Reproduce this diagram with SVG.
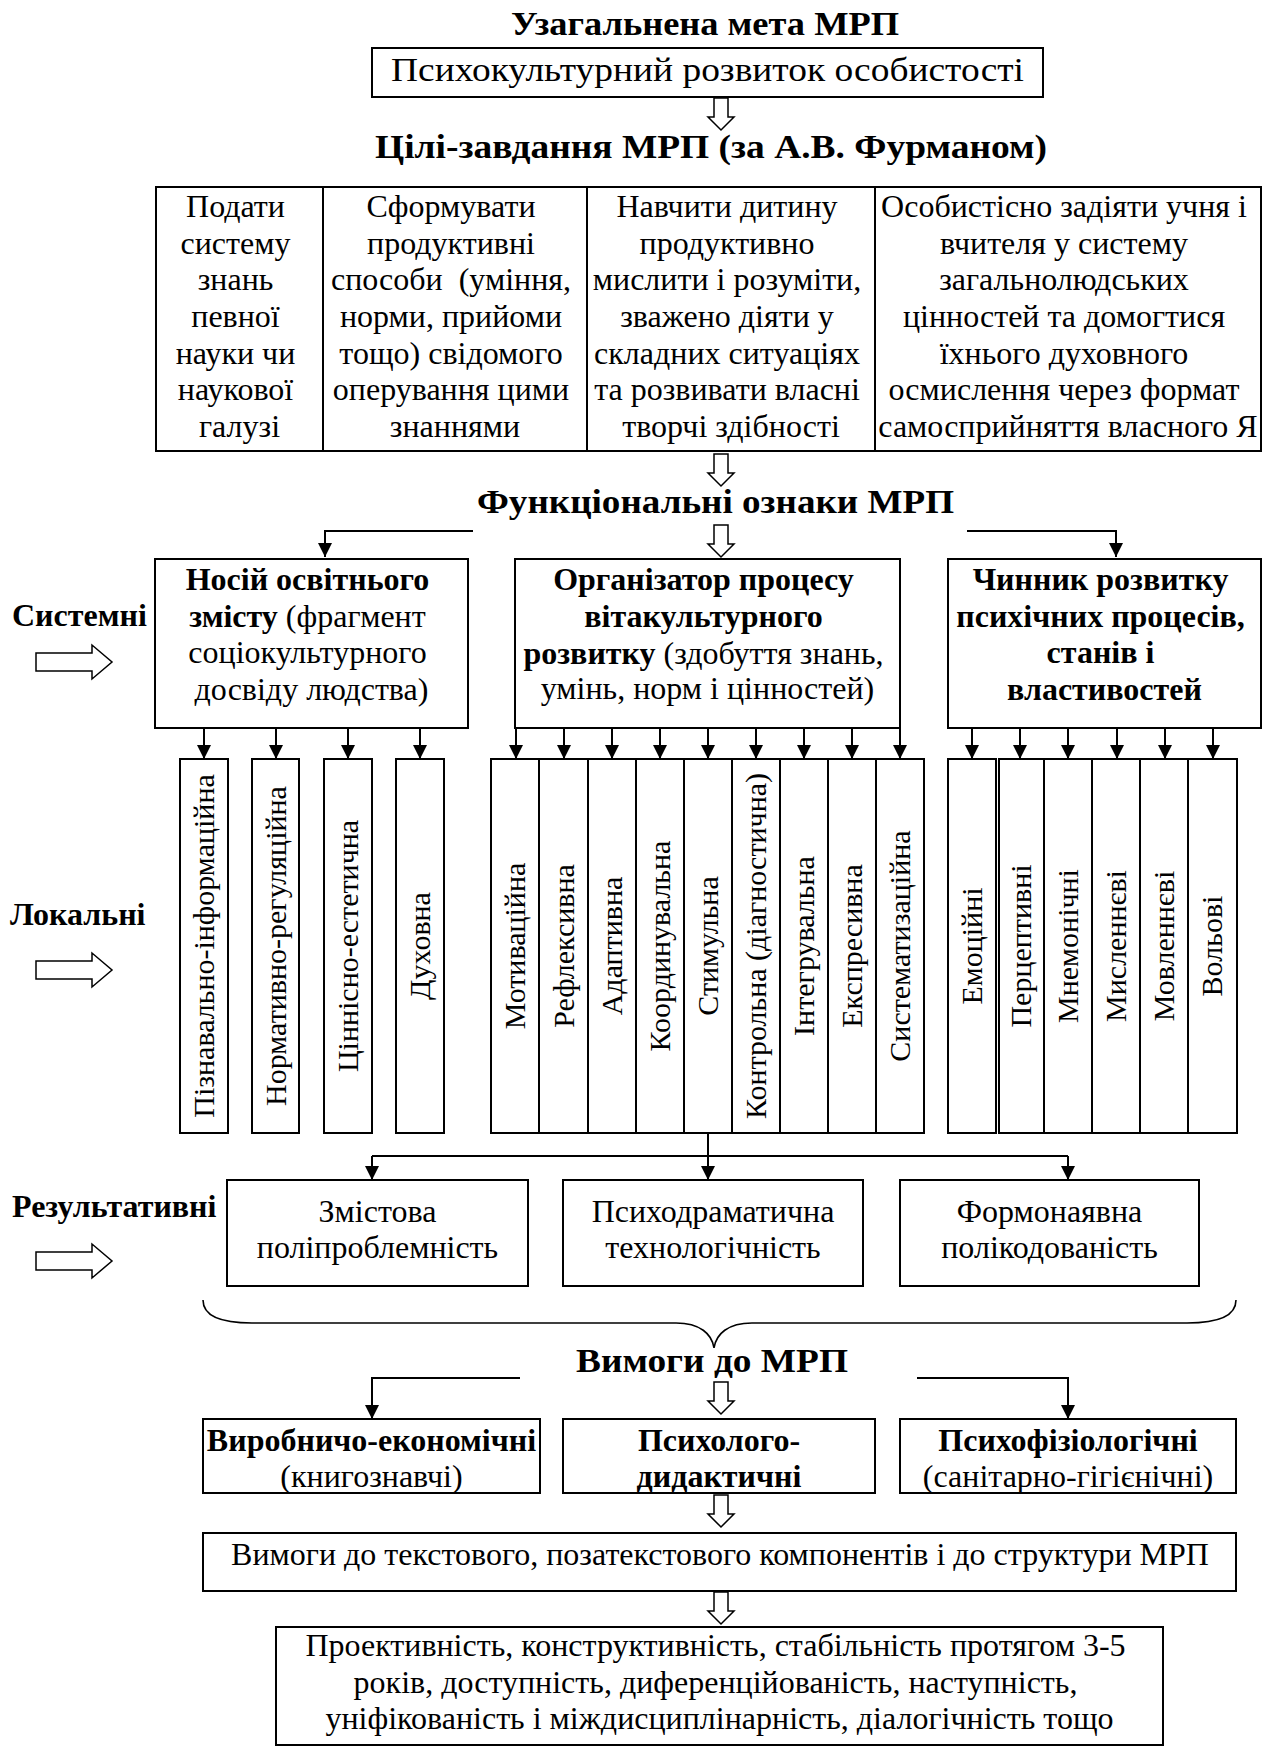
<svg xmlns="http://www.w3.org/2000/svg" width="1273" height="1748" viewBox="0 0 1273 1748">
  <style>
    text { font-family: "Liberation Serif", "Times New Roman", serif; fill: #000; }
    .t { font-size: 32px; }
    .b { font-size: 32px; font-weight: bold; }
    .h { font-size: 34px; font-weight: bold; }
    .v { font-size: 30px; }
    .c { text-anchor: middle; }
    .box { fill: #fff; stroke: #000; stroke-width: 2; }
    .ln { fill: none; stroke: #000; stroke-width: 2; }
    .hol { fill: #fff; stroke: #000; stroke-width: 1.5; stroke-linejoin: miter; }
    .brace { fill: none; stroke: #000; stroke-width: 1.6; }
  </style>
  <defs>
    <marker id="ah" markerUnits="userSpaceOnUse" markerWidth="14" markerHeight="14" refX="14" refY="7" orient="auto">
      <path d="M0,0 L14,7 L0,14 Z" fill="#000"/>
    </marker>
    <!-- hollow block arrow pointing down, origin at top centre, 32 long -->
    <path id="hdown" class="hol" d="M-7,0 H7 V19 H13 L0,32 L-13,19 H-7 Z"/>
    <!-- hollow block arrow pointing right, origin at left middle -->
    <path id="hright" class="hol" d="M0,-9 H56 V-17 L76,0 L56,17 V9 H0 Z"/>
  </defs>

  <!-- headings -->
  <g id="heading-goal">
    <text class="h c" x="705" y="35" textLength="388" lengthAdjust="spacingAndGlyphs">Узагальнена мета МРП</text>
  </g>
  <g id="node-goal">
    <rect class="box" x="372" y="48" width="671" height="49"/>
    <text class="t c" x="707.5" y="81" style="font-size:34px" textLength="633" lengthAdjust="spacingAndGlyphs">Психокультурний розвиток особистості</text>
  </g>
  <g id="heading-tasks">
    <text class="h c" x="711" y="158" textLength="672" lengthAdjust="spacingAndGlyphs">Цілі-завдання МРП (за А.В. Фурманом)</text>
  </g>

  <!-- task table -->
  <g id="node-tasks">
    <rect class="box" x="156" y="187" width="1105" height="264"/>
    <line class="ln" x1="323" y1="187" x2="323" y2="451"/>
    <line class="ln" x1="587" y1="187" x2="587" y2="451"/>
    <line class="ln" x1="875" y1="187" x2="875" y2="451"/>
    <text class="t c">
      <tspan x="239.5" y="217">Подати</tspan>
      <tspan x="239.5" y="254">систему</tspan>
      <tspan x="239.5" y="290">знань</tspan>
      <tspan x="239.5" y="327">певної</tspan>
      <tspan x="239.5" y="364">науки чи</tspan>
      <tspan x="239.5" y="400">наукової</tspan>
      <tspan x="239.5" y="437">галузі</tspan>
    </text>
    <text class="t c">
      <tspan x="455" y="217">Сформувати</tspan>
      <tspan x="455" y="254">продуктивні</tspan>
      <tspan x="455" y="290">способи&#160; (уміння,</tspan>
      <tspan x="455" y="327">норми, прийоми</tspan>
      <tspan x="455" y="364">тощо) свідомого</tspan>
      <tspan x="455" y="400">оперування цими</tspan>
      <tspan x="455" y="437">знаннями</tspan>
    </text>
    <text class="t c">
      <tspan x="731" y="217">Навчити дитину</tspan>
      <tspan x="731" y="254">продуктивно</tspan>
      <tspan x="731" y="290">мислити і розуміти,</tspan>
      <tspan x="731" y="327">зважено діяти у</tspan>
      <tspan x="731" y="364">складних ситуаціях</tspan>
      <tspan x="731" y="400">та розвивати власні</tspan>
      <tspan x="731" y="437">творчі здібності</tspan>
    </text>
    <text class="t c">
      <tspan x="1068" y="217">Особистісно задіяти учня і</tspan>
      <tspan x="1068" y="254">вчителя у систему</tspan>
      <tspan x="1068" y="290">загальнолюдських</tspan>
      <tspan x="1068" y="327">цінностей та домогтися</tspan>
      <tspan x="1068" y="364">їхнього духовного</tspan>
      <tspan x="1068" y="400">осмислення через формат</tspan>
      <tspan x="1068" y="437">самосприйняття власного Я</tspan>
    </text>
  </g>

  <g id="heading-functions">
    <text class="h c" x="715.5" y="513" textLength="477" lengthAdjust="spacingAndGlyphs">Функціональні ознаки МРП</text>
  </g>

  <!-- level labels with block arrows -->
  <g id="label-system">
    <text class="b" x="12" y="626">Системні</text>
    <use href="#hright" x="36" y="662"/>
  </g>
  <g id="label-local">
    <text class="b" x="10" y="925">Локальні</text>
    <use href="#hright" x="36" y="970"/>
  </g>
  <g id="label-result">
    <text class="b" x="12" y="1217">Результативні</text>
    <use href="#hright" x="36" y="1261"/>
  </g>

  <!-- systemic functions -->
  <g id="node-carrier">
    <rect class="box" x="155" y="559" width="313" height="169"/>
    <text class="t c">
      <tspan x="311.5" y="590" font-weight="bold">Носій освітнього</tspan>
      <tspan x="311.5" y="627"><tspan font-weight="bold">змісту</tspan> (фрагмент</tspan>
      <tspan x="311.5" y="663">соціокультурного</tspan>
      <tspan x="311.5" y="700">досвіду людства)</tspan>
    </text>
  </g>
  <g id="node-organizer">
    <rect class="box" x="515" y="559" width="385" height="169"/>
    <text class="t c">
      <tspan x="707.5" y="590" font-weight="bold">Організатор процесу</tspan>
      <tspan x="707.5" y="627" font-weight="bold">вітакультурного</tspan>
      <tspan x="707.5" y="664"><tspan font-weight="bold">розвитку</tspan> (здобуття знань,</tspan>
      <tspan x="707.5" y="699">умінь, норм і цінностей)</tspan>
    </text>
  </g>
  <g id="node-factor">
    <rect class="box" x="948" y="559" width="313" height="169"/>
    <text class="b c">
      <tspan x="1104.5" y="590">Чинник розвитку</tspan>
      <tspan x="1104.5" y="627">психічних процесів,</tspan>
      <tspan x="1104.5" y="663">станів і</tspan>
      <tspan x="1104.5" y="700">властивостей</tspan>
    </text>
  </g>

  <!-- local functions: carrier -->
  <g id="node-local-carrier">
    <rect class="box" x="180" y="759" width="48" height="374"/>
    <rect class="box" x="252" y="759" width="47" height="374"/>
    <rect class="box" x="324" y="759" width="48" height="374"/>
    <rect class="box" x="396" y="759" width="48" height="374"/>
    <text class="v c" transform="translate(214,946) rotate(-90)">Пізнавально-інформаційна</text>
    <text class="v c" transform="translate(286,946) rotate(-90)">Нормативно-регуляційна</text>
    <text class="v c" transform="translate(358,946) rotate(-90)">Ціннісно-естетична</text>
    <text class="v c" transform="translate(430,946) rotate(-90)">Духовна</text>
  </g>

  <!-- local functions: organizer -->
  <g id="node-local-organizer">
    <rect class="box" x="491" y="759" width="433" height="374"/>
    <line class="ln" x1="539" y1="759" x2="539" y2="1133"/>
    <line class="ln" x1="588" y1="759" x2="588" y2="1133"/>
    <line class="ln" x1="636" y1="759" x2="636" y2="1133"/>
    <line class="ln" x1="684" y1="759" x2="684" y2="1133"/>
    <line class="ln" x1="732" y1="759" x2="732" y2="1133"/>
    <line class="ln" x1="780" y1="759" x2="780" y2="1133"/>
    <line class="ln" x1="828" y1="759" x2="828" y2="1133"/>
    <line class="ln" x1="876" y1="759" x2="876" y2="1133"/>
    <text class="v c" transform="translate(525,946) rotate(-90)">Мотиваційна</text>
    <text class="v c" transform="translate(574,946) rotate(-90)">Рефлексивна</text>
    <text class="v c" transform="translate(622,946) rotate(-90)">Адаптивна</text>
    <text class="v c" transform="translate(670,946) rotate(-90)">Координувальна</text>
    <text class="v c" transform="translate(718,946) rotate(-90)">Стимульна</text>
    <text class="v c" transform="translate(766,946) rotate(-90)">Контрольна (діагностична)</text>
    <text class="v c" transform="translate(814,946) rotate(-90)">Інтегрувальна</text>
    <text class="v c" transform="translate(862,946) rotate(-90)">Експресивна</text>
    <text class="v c" transform="translate(910,946) rotate(-90)">Систематизаційна</text>
  </g>

  <!-- local functions: development factor -->
  <g id="node-local-factor">
    <rect class="box" x="948" y="759" width="48" height="374"/>
    <rect class="box" x="999" y="759" width="238" height="374"/>
    <line class="ln" x1="1044" y1="759" x2="1044" y2="1133"/>
    <line class="ln" x1="1092" y1="759" x2="1092" y2="1133"/>
    <line class="ln" x1="1140" y1="759" x2="1140" y2="1133"/>
    <line class="ln" x1="1188" y1="759" x2="1188" y2="1133"/>
    <text class="v c" transform="translate(982,946) rotate(-90)">Емоційні</text>
    <text class="v c" transform="translate(1031,946) rotate(-90)">Перцептивні</text>
    <text class="v c" transform="translate(1078,946) rotate(-90)">Мнемонічні</text>
    <text class="v c" transform="translate(1126,946) rotate(-90)">Мисленнєві</text>
    <text class="v c" transform="translate(1174,946) rotate(-90)">Мовленнєві</text>
    <text class="v c" transform="translate(1222,946) rotate(-90)">Вольові</text>
  </g>

  <!-- resultative functions -->
  <g id="node-content">
    <rect class="box" x="227" y="1180" width="301" height="106"/>
    <text class="t c"><tspan x="377.5" y="1222">Змістова</tspan><tspan x="377.5" y="1258">поліпроблемність</tspan></text>
  </g>
  <g id="node-psychodrama">
    <rect class="box" x="563" y="1180" width="300" height="106"/>
    <text class="t c"><tspan x="713" y="1222">Психодраматична</tspan><tspan x="713" y="1258">технологічність</tspan></text>
  </g>
  <g id="node-form">
    <rect class="box" x="900" y="1180" width="299" height="106"/>
    <text class="t c"><tspan x="1049.5" y="1222">Формонаявна</tspan><tspan x="1049.5" y="1258">полікодованість</tspan></text>
  </g>

  <g id="heading-requirements">
    <text class="h c" x="712" y="1372" textLength="272" lengthAdjust="spacingAndGlyphs">Вимоги до МРП</text>
  </g>

  <!-- requirement groups -->
  <g id="node-production">
    <rect class="box" x="203" y="1419" width="337" height="74"/>
    <text class="t c"><tspan x="371.5" y="1451" font-weight="bold">Виробничо-економічні</tspan><tspan x="371.5" y="1487">(книгознавчі)</tspan></text>
  </g>
  <g id="node-didactic">
    <rect class="box" x="563" y="1419" width="312" height="74"/>
    <text class="b c"><tspan x="719" y="1451">Психолого-</tspan><tspan x="719" y="1487">дидактичні</tspan></text>
  </g>
  <g id="node-physio">
    <rect class="box" x="900" y="1419" width="336" height="74"/>
    <text class="t c"><tspan x="1068" y="1451" font-weight="bold">Психофізіологічні</tspan><tspan x="1068" y="1487">(санітарно-гігієнічні)</tspan></text>
  </g>
  <g id="node-components">
    <rect class="box" x="203" y="1533" width="1033" height="58"/>
    <text class="t c" x="720" y="1565">Вимоги до текстового, позатекстового компонентів і до структури МРП</text>
  </g>
  <g id="node-qualities">
    <rect class="box" x="276" y="1627" width="887" height="118"/>
    <text class="t c">
      <tspan x="719.5" y="1656">Проективність, конструктивність, стабільність протягом 3-5</tspan>
      <tspan x="719.5" y="1693">років, доступність, диференційованість, наступність,</tspan>
      <tspan x="719.5" y="1729">уніфікованість і міждисциплінарність, діалогічність тощо</tspan>
    </text>
  </g>

  <!-- connectors -->
  <g id="connectors">
    <use href="#hdown" x="721" y="98"/>
    <use href="#hdown" x="721" y="454"/>
    <use href="#hdown" x="721" y="525"/>
    <use href="#hdown" x="721" y="1382"/>
    <use href="#hdown" x="721" y="1495"/>
    <use href="#hdown" x="721" y="1592"/>

    <path class="ln" d="M473,531 H325 V557" marker-end="url(#ah)"/>
    <path class="ln" d="M967,531 H1116 V557" marker-end="url(#ah)"/>

    <g marker-end="url(#ah)">
      <path class="ln" d="M204,728 V759"/>
      <path class="ln" d="M276,728 V759"/>
      <path class="ln" d="M348,728 V759"/>
      <path class="ln" d="M420,728 V759"/>

      <path class="ln" d="M516,728 V759"/>
      <path class="ln" d="M564,728 V759"/>
      <path class="ln" d="M612,728 V759"/>
      <path class="ln" d="M660,728 V759"/>
      <path class="ln" d="M708,728 V759"/>
      <path class="ln" d="M756,728 V759"/>
      <path class="ln" d="M804,728 V759"/>
      <path class="ln" d="M852,728 V759"/>
      <path class="ln" d="M900,728 V759"/>

      <path class="ln" d="M972,728 V759"/>
      <path class="ln" d="M1020,728 V759"/>
      <path class="ln" d="M1068,728 V759"/>
      <path class="ln" d="M1117,728 V759"/>
      <path class="ln" d="M1165,728 V759"/>
      <path class="ln" d="M1213,728 V759"/>

      <path class="ln" d="M372,1156 V1180"/>
      <path class="ln" d="M708,1156 V1180"/>
      <path class="ln" d="M1068,1156 V1180"/>
    </g>
    <path class="ln" d="M708,1133 V1156 M372,1156 H1068"/>

    <path class="brace" d="M203,1300 C203,1316 222,1323 252,1323 L676,1323 C700,1323 712,1334 714,1348 C716,1334 728,1323 752,1323 L1187,1323 C1217,1323 1236,1316 1236,1300"/>

    <path class="ln" d="M520,1378 H372 V1419" marker-end="url(#ah)"/>
    <path class="ln" d="M917,1378 H1068 V1419" marker-end="url(#ah)"/>
  </g>
</svg>
